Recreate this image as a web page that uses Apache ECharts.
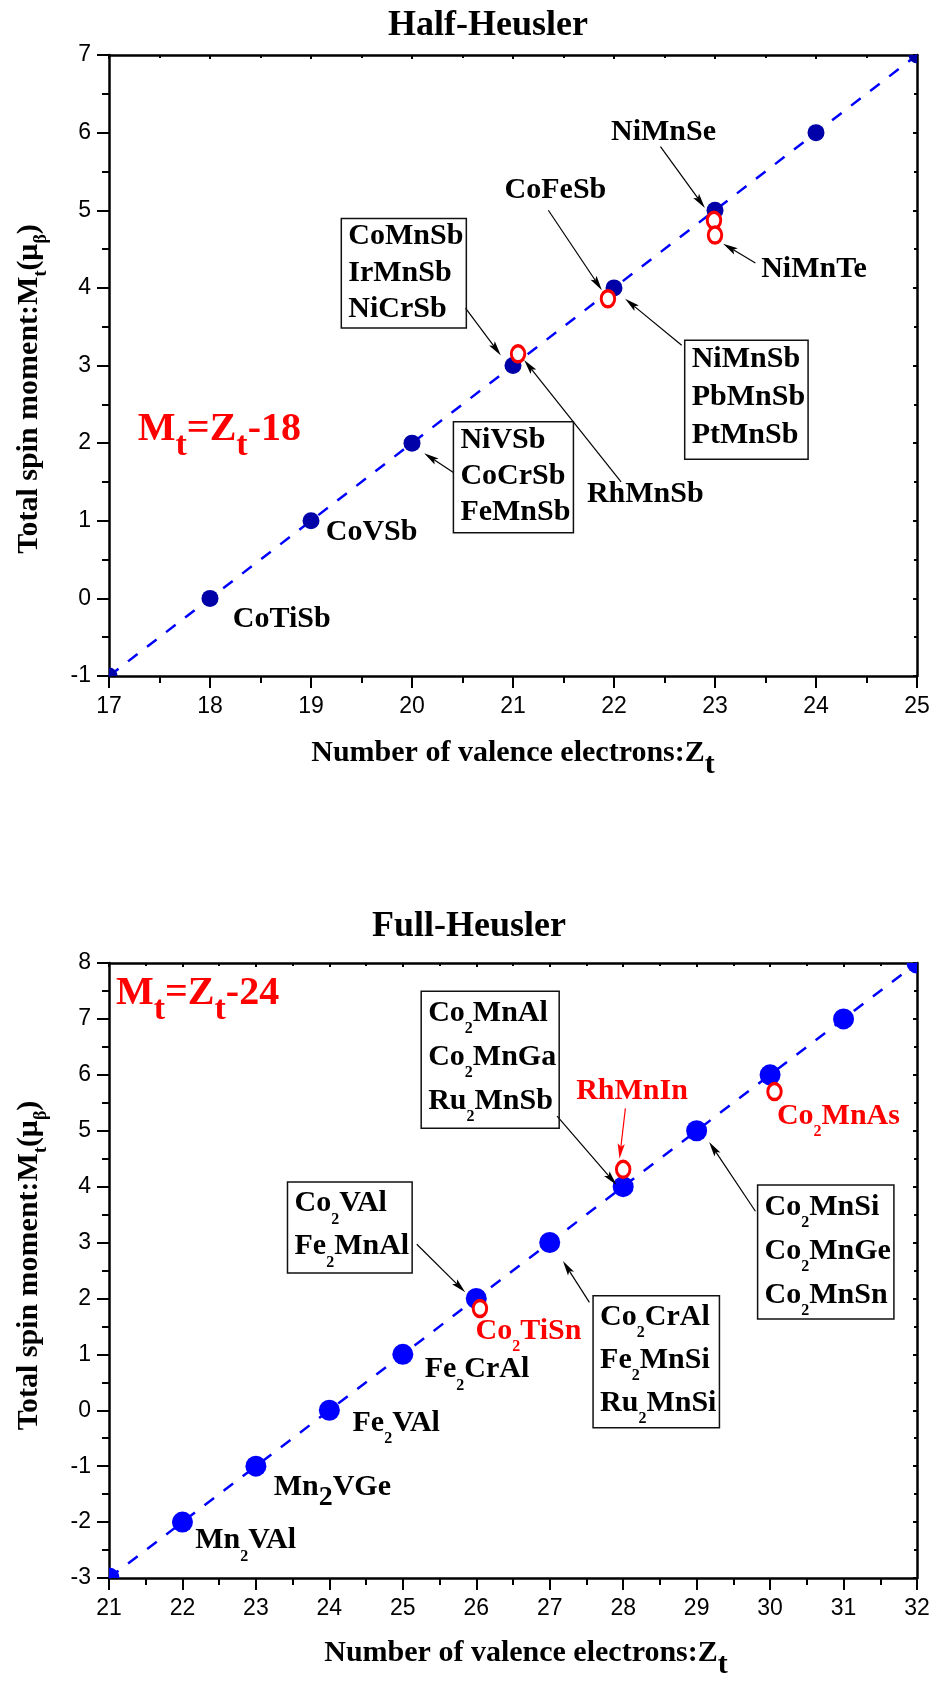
<!DOCTYPE html>
<html>
<head>
<meta charset="utf-8">
<script src="https://cdn.jsdelivr.net/npm/echarts@6/dist/echarts.min.js"></script>
<style>
  html, body { margin: 0; padding: 0; background: #fff; }
  #chart { width: 934px; height: 1681px; }
</style>
</head>
<body>
<div id="chart"></div>
<script>
// Slater–Pauling behaviour of Heusler compounds: total spin moment vs valence electron count.

// ---------- data ----------
// Half-Heusler: M_t = Z_t - 18
const halfZt = [17, 18, 19, 20, 21, 22, 23, 24, 25];
const halfMt = [-1, 0, 1, 2, 3, 4, 5, 6, 7];
// compounds deviating from the rule (open red markers)
const halfOffZt = [21.05, 21.94, 22.99, 23.0];
const halfOffMt = [3.15, 3.86, 4.87, 4.68];

// Full-Heusler: M_t = Z_t - 24
const fullZt = [21, 22, 23, 24, 25, 26, 27, 28, 29, 30, 31, 32];
const fullMt = [-3, -2, -1, 0, 1, 2, 3, 4, 5, 6, 7, 8];
const fullOffZt = [26.05, 28.0, 30.06];
const fullOffMt = [1.82, 4.31, 5.70];

// axis ranges
const halfXRange = [17, 25];
const halfYRange = [-1, 7];
const fullXRange = [21, 32];
const fullYRange = [-3, 8];

// compound names
const halfSingles = ['NiMnSe', 'CoFeSb', 'NiMnTe', 'RhMnSb', 'CoVSb', 'CoTiSb'];
const halfGroups = [
  ['CoMnSb', 'IrMnSb', 'NiCrSb'],
  ['NiMnSb', 'PbMnSb', 'PtMnSb'],
  ['NiVSb', 'CoCrSb', 'FeMnSb']
];
const fullSingles = ['Fe2CrAl', 'Fe2VAl', 'Mn2VGe', 'Mn2VAl'];
const fullRedSingles = ['RhMnIn', 'Co2MnAs', 'Co2TiSn'];
const fullGroups = [
  ['Co2MnAl', 'Co2MnGa', 'Ru2MnSb'],
  ['Co2VAl', 'Fe2MnAl'],
  ['Co2MnSi', 'Co2MnGe', 'Co2MnSn'],
  ['Co2CrAl', 'Fe2MnSi', 'Ru2MnSi']
];

// ---------- annotation placement (axis units) ----------
const halfSinglePos = [[22.49, 6.01], [21.42, 5.26], [23.98, 4.24], [22.31, 1.34], [19.60, 0.85], [18.71, -0.27]];
const halfGroupPos = [[19.30, 4.19], [22.70, 2.56], [20.41, 1.56]];   // box left edge, box middle
const halfGroupLine = [36.5, 38, 36];
const halfGroupPadBottom = [0, 5, 3];
const halfArrows = [
  [22.46, 5.82, 22.90, 5.03],
  [21.35, 5.00, 21.88, 3.97],
  [20.53, 3.74, 20.88, 3.13],
  [23.40, 4.32, 23.08, 4.57],
  [22.67, 3.26, 22.11, 3.86],
  [22.07, 1.50, 21.11, 3.07],
  [20.41, 1.62, 20.12, 1.87]
];
const halfRulePos = [17.285, 2.17];

const fullSinglePos = [[26.01, 0.73], [24.91, -0.23], [24.04, -1.37], [22.86, -2.33]];
const fullSingleBigSub = [false, false, true, false];
const fullRedPos = [[28.12, 5.71], [30.93, 5.26], [26.71, 1.42]];
const fullGroupPos = [[25.25, 6.27], [23.43, 3.27], [29.83, 2.83], [27.59, 0.87]];
const fullGroupLine = [44, 43, 44, 43];
const fullGroupPadBottom = [5, 5, 2, 3];
const fullArrows = [
  [27.10, 5.26, 27.91, 4.03],
  [25.19, 2.97, 25.85, 2.11],
  [29.80, 3.56, 29.17, 4.80],
  [27.54, 1.93, 27.18, 2.67]
];
const fullRedArrows = [[28.03, 5.40, 27.95, 4.50]];
const fullRulePos = [21.095, 7.45];

// ---------- styling ----------
const SERIF = 'Liberation Serif';
const SANS = 'Liberation Sans';
const BLACK = '#000000';
const RED = '#ff0000';
const HALF_DOT = '#0000a8';
const FULL_DOT = '#0000ff';
const LINE_BLUE = '#0000ff';
const RING_PATH = 'path://M0,-1C0.552,-1,1,-0.552,1,0C1,0.552,0.552,1,0,1C-0.552,1,-1,0.552,-1,0C-1,-0.552,-0.552,-1,0,-1Z';
const NO_BORDER = { textBorderWidth: 0, textBorderColor: 'transparent', textShadowBlur: 0 };

function richStyles(color, lh) {
  const base = Object.assign({ fontFamily: SERIF, fontWeight: 'bold', color: color, lineHeight: lh }, NO_BORDER);
  return {
    n: Object.assign({ fontSize: 30 }, base),
    s: Object.assign({ fontSize: 16, padding: [32, 0, 0, 0] }, base),
    b: Object.assign({ fontSize: 28, padding: [22, 0, 0, 0] }, base)
  };
}

// chemical formula -> rich text with subscripted digits
function formula(name, big) {
  return name.split(/(\d+)/).filter(function (p) { return p.length; }).map(function (p) {
    return /^\d+$/.test(p) ? '{' + (big ? 'b' : 's') + '|' + p + '}' : '{n|' + p + '}';
  }).join('');
}

function singleLabel(name, pos, color, big) {
  const txt = formula(name, big);
  return {
    value: pos,
    label: Object.assign({
      show: true, position: 'inside', align: 'center', verticalAlign: 'middle', color: color, opacity: 1,
      formatter: function () { return txt; },
      rich: richStyles(color, 30)
    }, NO_BORDER)
  };
}

function groupLabel(names, pos, lh, pb) {
  const txt = names.map(function (n) { return formula(n, false); }).join('\n');
  return {
    value: pos,
    label: Object.assign({
      show: true, position: 'inside', align: 'left', verticalAlign: 'middle', color: BLACK, opacity: 1,
      formatter: function () { return txt; },
      rich: richStyles(BLACK, lh),
      padding: [0, 3, pb, 7],
      borderColor: '#111111', borderWidth: 1.5
    }, NO_BORDER)
  };
}

function ruleLabel(pos, offset) {
  const st = Object.assign({ fontFamily: SERIF, fontWeight: 'bold', color: RED, lineHeight: 40 }, NO_BORDER);
  const txt = '{e|M}{t|t}{e|=Z}{t|t}{e|-' + offset + '}';
  return {
    value: pos,
    label: Object.assign({
      show: true, position: 'inside', align: 'left', verticalAlign: 'middle', color: RED, opacity: 1,
      formatter: function () { return txt; },
      rich: {
        e: Object.assign({ fontSize: 40 }, st),
        t: Object.assign({ fontSize: 34, padding: [32, 0, 0, 0] }, st)
      }
    }, NO_BORDER)
  };
}

function labelSeries(items, xi, yi) {
  return {
    type: 'scatter', xAxisIndex: xi, yAxisIndex: yi, silent: true, z: 6,
    symbol: 'circle', symbolSize: 1, itemStyle: { color: 'rgba(0,0,0,0)', opacity: 1 },
    label: { opacity: 1 },
    data: items
  };
}

function arrowSeries(list, xi, yi, color) {
  return {
    type: 'custom', xAxisIndex: xi, yAxisIndex: yi, silent: true, z: 5,
    data: list,
    encode: { x: [0, 2], y: [1, 3] },
    renderItem: function (params, api) {
      const a = api.coord([api.value(0), api.value(1)]);
      const b = api.coord([api.value(2), api.value(3)]);
      const dx = b[0] - a[0], dy = b[1] - a[1];
      const len = Math.sqrt(dx * dx + dy * dy) || 1;
      const ux = dx / len, uy = dy / len;
      const hl = 15, hw = 3.6;
      const bx = b[0] - ux * hl, by = b[1] - uy * hl;
      const nx = -uy, ny = ux;
      return {
        type: 'group',
        children: [
          { type: 'line', shape: { x1: a[0], y1: a[1], x2: bx + ux * 3, y2: by + uy * 3 },
            style: { stroke: color, lineWidth: 1.2 } },
          { type: 'polygon',
            shape: { points: [[b[0], b[1]], [bx + nx * hw, by + ny * hw],
                              [b[0] - ux * hl * 0.8, b[1] - uy * hl * 0.8], [bx - nx * hw, by - ny * hw]] },
            style: { fill: color } }
        ]
      };
    }
  };
}

function dotSeries(zs, ms, xi, yi, color, r) {
  return {
    type: 'custom', xAxisIndex: xi, yAxisIndex: yi, clip: true, silent: true, z: 3,
    data: zs.map(function (z, i) { return [z, ms[i]]; }),
    renderItem: function (params, api) {
      const p = api.coord([api.value(0), api.value(1)]);
      return { type: 'circle', shape: { cx: p[0], cy: p[1], r: r }, style: { fill: color } };
    }
  };
}

function ruleLine(zs, ms, xi, yi) {
  return {
    type: 'line', xAxisIndex: xi, yAxisIndex: yi, z: 2, silent: true,
    showSymbol: false, symbol: 'none', clip: true,
    data: zs.map(function (z, i) { return [z, ms[i]]; }),
    lineStyle: { color: LINE_BLUE, width: 2.5, type: [12, 12], opacity: 1 }
  };
}

function ringSeries(zs, ms, xi, yi) {
  return {
    type: 'scatter', xAxisIndex: xi, yAxisIndex: yi, z: 4, silent: true,
    symbol: RING_PATH, symbolSize: [13.5, 16],
    itemStyle: { color: '#ffffff', borderColor: RED, borderWidth: 3.2, opacity: 1 },
    data: zs.map(function (z, i) { return [z, ms[i]]; })
  };
}

// ---------- axes ----------
const tickLine = { color: BLACK, width: 2 };
const axisLine = { show: true, onZero: false, lineStyle: { color: BLACK, width: 2.5 } };

const xNameRich = {
  n: { fontFamily: SERIF, fontWeight: 'bold', fontSize: 30, color: BLACK, lineHeight: 30 },
  t: { fontFamily: SERIF, fontWeight: 'bold', fontSize: 30, color: BLACK, lineHeight: 30, padding: [24, 0, 0, 0] }
};
const yNameRich = {
  n: { fontFamily: SERIF, fontWeight: 'bold', fontSize: 30, color: BLACK, lineHeight: 30 },
  s: { fontFamily: SERIF, fontWeight: 'bold', fontSize: 18, color: BLACK, lineHeight: 30, padding: [24, 0, 0, 0] }
};
const xName = '{n|Number of valence electrons:Z}{t|t}';
const yName = '{n|Total spin moment:M}{s|t}{n|(μ}{s|β}{n|)}';

function mainAxis(gi, range, position, name, gap, pad, rotate) {
  return {
    type: 'value', gridIndex: gi, position: position,
    min: range[0], max: range[1], interval: 1,
    axisLine: axisLine,
    axisTick: { show: true, inside: false, length: 12, lineStyle: tickLine },
    minorTick: { show: true, splitNumber: 2, length: 7, lineStyle: tickLine },
    splitLine: { show: false }, minorSplitLine: { show: false },
    axisLabel: { show: true, color: BLACK, fontFamily: SANS, fontSize: 23, margin: position === 'left' ? 18 : 19 },
    name: name, nameLocation: 'middle', nameGap: gap, nameRotate: rotate,
    nameTextStyle: { color: BLACK, rich: position === 'left' ? yNameRich : xNameRich, padding: pad }
  };
}

function frameAxis(gi, range, position) {
  return {
    type: 'value', gridIndex: gi, position: position,
    min: range[0], max: range[1], interval: 1,
    axisLine: axisLine,
    axisTick: { show: true, inside: true, length: 4, lineStyle: tickLine },
    minorTick: { show: true, splitNumber: 2, length: 3, lineStyle: tickLine },
    splitLine: { show: false }, minorSplitLine: { show: false },
    axisLabel: { show: false }
  };
}

// ---------- annotations ----------
const halfLabels = []
  .concat(halfSingles.map(function (n, i) { return singleLabel(n, halfSinglePos[i], BLACK, false); }))
  .concat(halfGroups.map(function (g, i) { return groupLabel(g, halfGroupPos[i], halfGroupLine[i], halfGroupPadBottom[i]); }))
  .concat([ruleLabel(halfRulePos, 18)]);

const fullLabels = []
  .concat(fullSingles.map(function (n, i) { return singleLabel(n, fullSinglePos[i], BLACK, fullSingleBigSub[i]); }))
  .concat(fullRedSingles.map(function (n, i) { return singleLabel(n, fullRedPos[i], RED, false); }))
  .concat(fullGroups.map(function (g, i) { return groupLabel(g, fullGroupPos[i], fullGroupLine[i], fullGroupPadBottom[i]); }))
  .concat([ruleLabel(fullRulePos, 24)]);

const titleStyle = { fontFamily: SERIF, fontWeight: 'bold', fontSize: 36, lineHeight: 36, color: BLACK };

const option = {
  backgroundColor: '#ffffff',
  animation: false,
  title: [
    { text: 'Half-Heusler', left: 488, top: 8, textAlign: 'center', padding: 0, textStyle: titleStyle },
    { text: 'Full-Heusler', left: 469, top: 909, textAlign: 'center', padding: 0, textStyle: titleStyle }
  ],
  grid: [
    { left: 104, top: 55, width: 813, height: 621, containLabel: false },
    { left: 104, top: 963, width: 813, height: 620, containLabel: false }
  ],
  xAxis: [
    mainAxis(0, halfXRange, 'bottom', xName, 62, [0, 0, 0, 0]),
    frameAxis(0, halfXRange, 'top'),
    mainAxis(1, fullXRange, 'bottom', xName, 60, [0, 0, 0, 26]),
    frameAxis(1, fullXRange, 'top')
  ],
  yAxis: [
    mainAxis(0, halfYRange, 'left', yName, 65, [0, 47, 0, 0], 90),
    frameAxis(0, halfYRange, 'right'),
    mainAxis(1, fullYRange, 'left', yName, 65, [0, 0, 0, 10], 90),
    frameAxis(1, fullYRange, 'right')
  ],
  series: [
    ruleLine(halfZt, halfMt, 0, 0),
    dotSeries(halfZt, halfMt, 0, 0, HALF_DOT, 8.5),
    ringSeries(halfOffZt, halfOffMt, 0, 0),
    arrowSeries(halfArrows, 0, 0, BLACK),
    labelSeries(halfLabels, 0, 0),

    ruleLine(fullZt, fullMt, 2, 2),
    dotSeries(fullZt, fullMt, 2, 2, FULL_DOT, 10.5),
    ringSeries(fullOffZt, fullOffMt, 2, 2),
    arrowSeries(fullArrows, 2, 2, BLACK),
    arrowSeries(fullRedArrows, 2, 2, RED),
    labelSeries(fullLabels, 2, 2)
  ]
};

const chart = echarts.init(document.getElementById('chart'), null, { renderer: 'canvas' });
chart.setOption(option);
</script>
</body>
</html>
